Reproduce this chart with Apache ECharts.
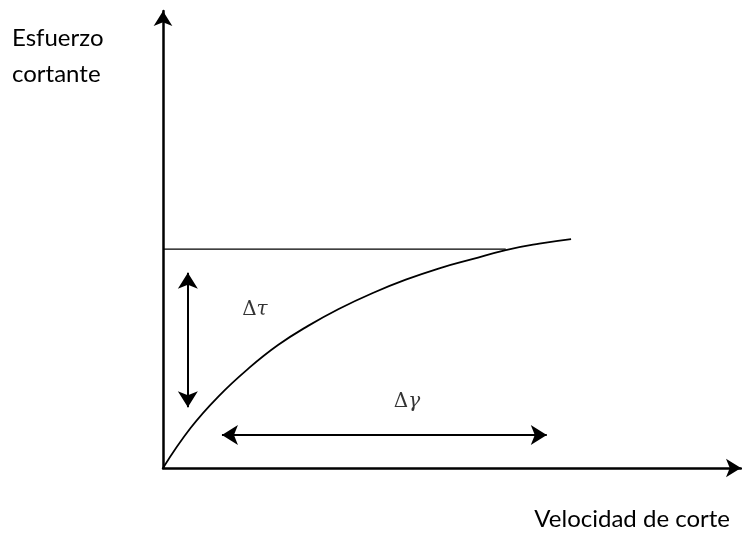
<!DOCTYPE html>
<html><head><meta charset="utf-8">
<script src="https://cdn.jsdelivr.net/npm/echarts@6/dist/echarts.min.js"></script>
<style>html,body{margin:0;padding:0;background:#fff}#c{width:742px;height:533px}</style>
</head><body><div id="c"></div>
<script>
// Schematic values (arbitrary units, 0-100 on both axes)
const curveX = [0, 4.8, 9.7, 14.9, 19.9, 25.1, 30.4, 36.3, 42.0, 47.8, 53.5, 59.3, 65.1, 70.6];
const curveY = [0, 8.8, 15.8, 21.9, 26.9, 31.1, 34.8, 38.3, 41.2, 43.7, 45.7, 47.7, 49.1, 50.1];
const plateauX = [0, 59.3];
const plateauY = [47.9, 47.9];
const tauArrow = [[4.3, 13.3], [4.3, 42.7]];
const gammaArrow = [[10.2, 7.2], [66.4, 7.2]];
const labelPoints = [[15.9, 34.6, 'Δ', 'τ'], [42.2, 14.4, 'Δ', 'γ']];
const yTitleLines = ['Esfuerzo', 'cortante'];
const xTitle = 'Velocidad de corte';

const chart = echarts.init(document.getElementById('c'), null, {renderer: 'canvas'});
const arrowStyle = {color: '#000', width: 2, type: 'solid'};
const titleFont = {fontFamily: 'Lato', fontSize: 24, fill: '#000', verticalAlign: 'middle'};
chart.setOption({
  animation: false,
  grid: {left: 163, right: 1, top: 11, bottom: 65},
  xAxis: {
    type: 'value', min: 0, max: 100,
    axisLine: {show: true, onZero: false, symbol: ['none', 'arrow'], symbolSize: [14, 15], lineStyle: {color: '#000', width: 2.5}},
    axisTick: {show: false}, axisLabel: {show: false}, splitLine: {show: false}
  },
  yAxis: {
    type: 'value', min: 0, max: 100,
    axisLine: {show: true, onZero: false, symbol: ['none', 'arrow'], symbolSize: [14, 15], lineStyle: {color: '#000', width: 2.5}},
    axisTick: {show: false}, axisLabel: {show: false}, splitLine: {show: false}
  },
  graphic: [
    {type: 'text', x: 12, y: 38, style: Object.assign({text: yTitleLines[0]}, titleFont)},
    {type: 'text', x: 12, y: 74, style: Object.assign({text: yTitleLines[1]}, titleFont)},
    {type: 'text', x: 730, y: 519, style: Object.assign({text: xTitle, align: 'right'}, titleFont)}
  ],
  series: [
    {
      type: 'line', smooth: 0.45, symbol: 'none',
      data: curveX.map((x, i) => [x, curveY[i]]),
      lineStyle: {color: '#000', width: 1.8},
      markLine: {
        silent: true, symbol: ['arrow', 'arrow'], symbolSize: [15, 16],
        label: {show: false}, lineStyle: arrowStyle,
        data: [
          [{coord: tauArrow[0]}, {coord: tauArrow[1]}],
          [{coord: gammaArrow[0]}, {coord: gammaArrow[1]}]
        ]
      }
    },
    {
      type: 'line', symbol: 'none',
      data: plateauX.map((x, i) => [x, plateauY[i]]),
      lineStyle: {color: '#000', width: 1.3}
    },
    {
      type: 'scatter', symbolSize: 0,
      data: labelPoints.map(p => ({value: [p[0], p[1]], sym: p[3], d: p[2]})),
      label: {
        show: true, position: 'inside',
        formatter: p => '{a|' + p.data.d + '}{b|' + p.data.sym + '}',
        rich: {
          a: {fontFamily: 'DejaVu Serif', fontSize: 20, color: '#000'},
          b: {fontFamily: 'DejaVu Serif', fontStyle: 'italic', fontSize: 20, color: '#000'}
        }
      }
    }
  ]
});
</script></body></html>
